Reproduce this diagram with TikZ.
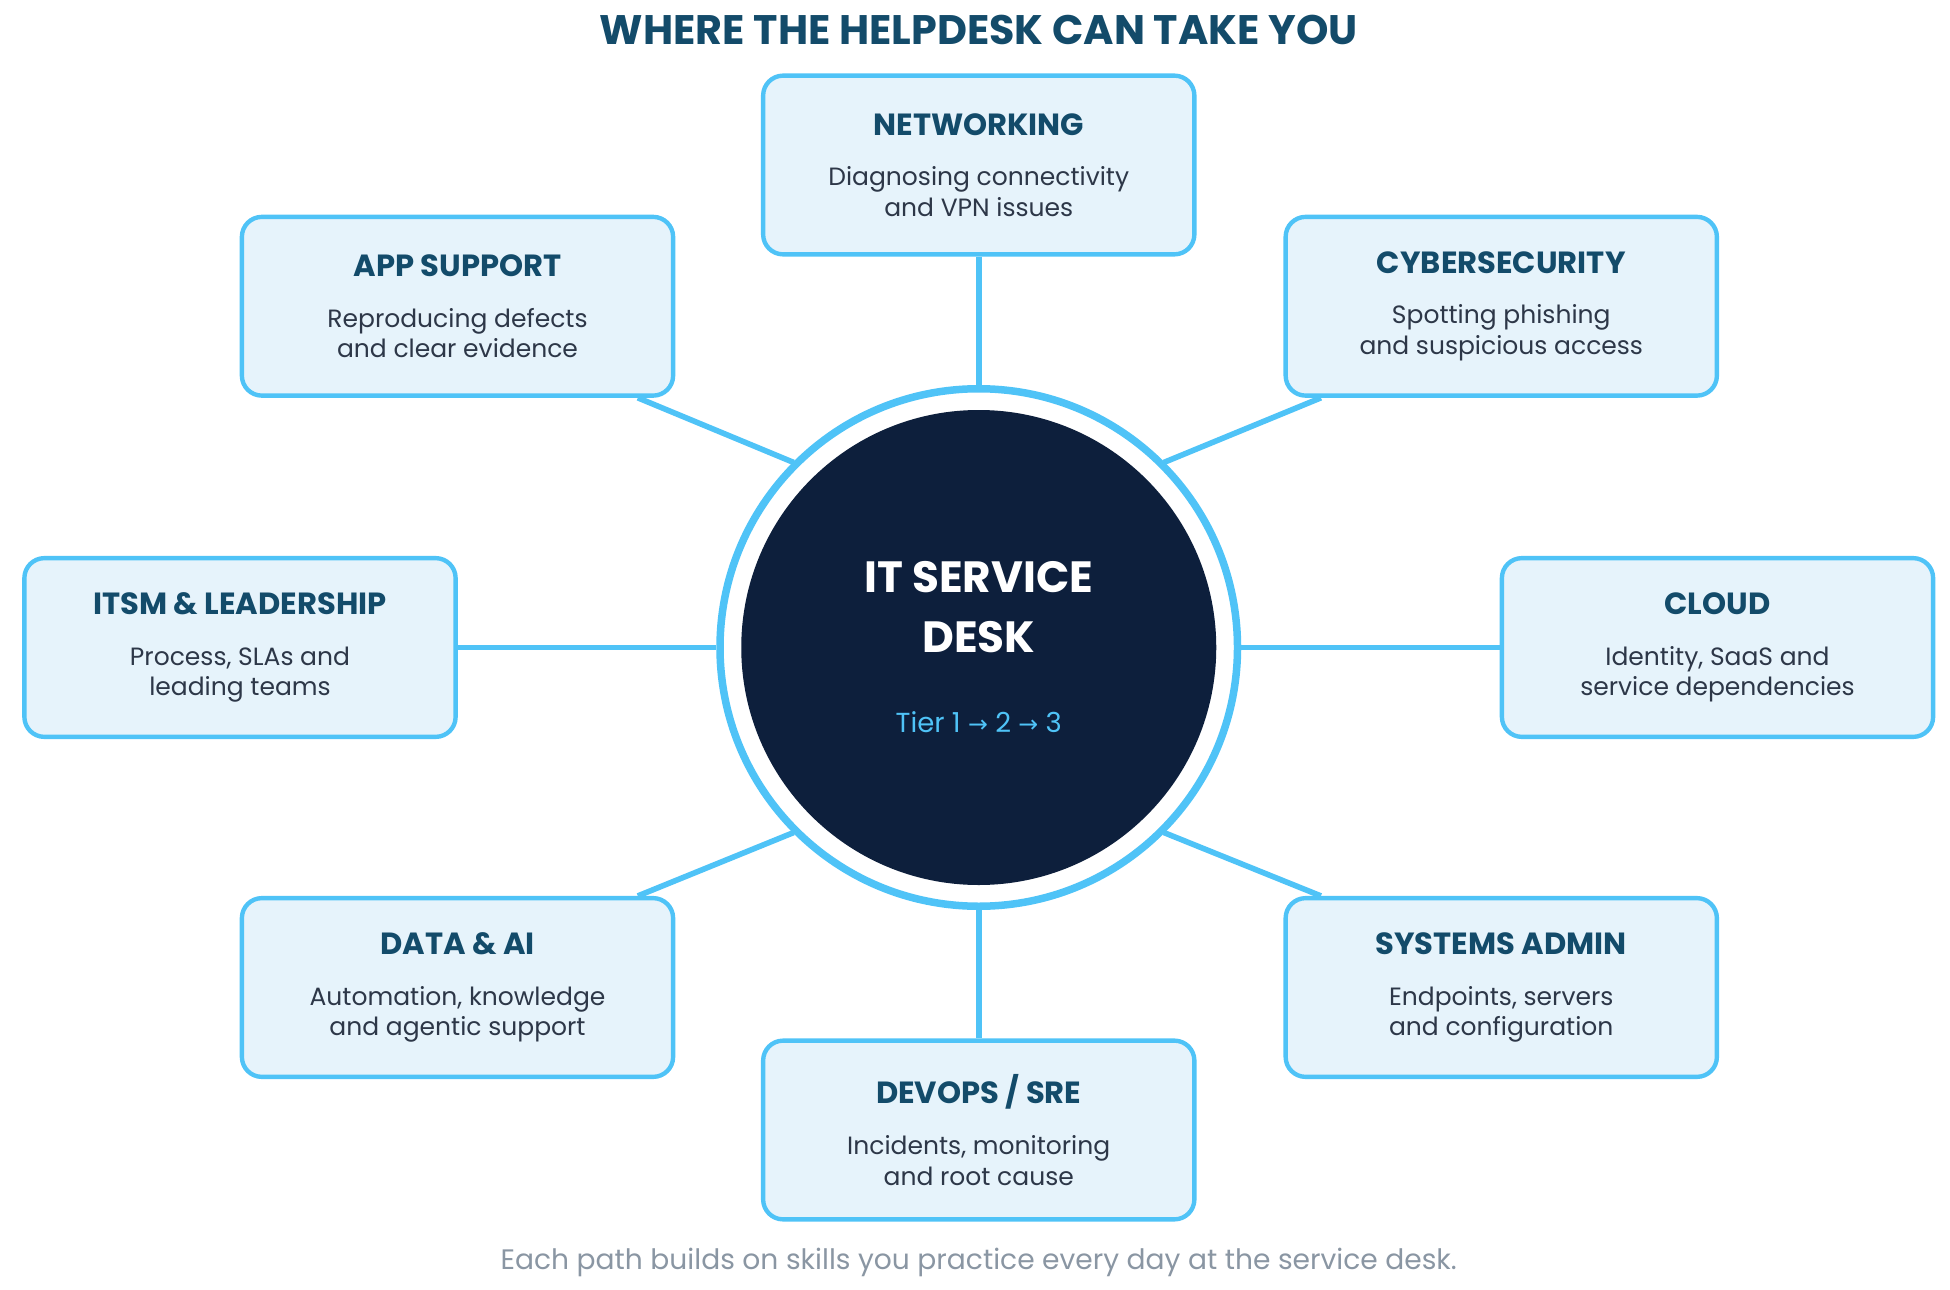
\documentclass[tikz,border=0pt]{standalone}
\usepackage{fontspec}
\setmainfont{Poppins}
\newfontfamily\arrowfont{DejaVu Sans}
\usetikzlibrary{calc}
\definecolor{skyline}{HTML}{4FC3F7}
\definecolor{boxfill}{HTML}{E6F3FB}
\definecolor{headteal}{HTML}{134B6A}
\definecolor{deepnavy}{HTML}{0D1F3C}
\definecolor{bodygray}{HTML}{2D3748}
\definecolor{footgray}{HTML}{8A96A3}
\tikzset{
  path/.style={draw=skyline, fill=boxfill, line width=3.5pt, rounded corners=16pt,
    minimum width=345pt, minimum height=143pt},
  link/.style={draw=skyline, line width=4.5pt},
}
\newcommand{\pathtext}[2]{\parbox{335pt}{\centering\fontsize{24.5}{29}\selectfont\bfseries\color{headteal}#1\\[16pt]
  \fontsize{20}{24.5}\selectfont\mdseries\color{bodygray}#2}}
\newcommand{\tierarrow}{{\arrowfont\fontsize{19}{24}\selectfont →}}
\begin{document}
\begin{tikzpicture}[x=1pt, y=-1pt]
  \useasboundingbox (0,0) rectangle (1560,1032);

  \node (ttl) at (783,24) {\fontsize{33}{38}\selectfont\bfseries\color{headteal}WHERE THE HELPDESK CAN TAKE YOU};

  % centre
  \node[circle, draw=skyline, fill=white, line width=6pt, minimum size=414pt] (ring) at (783,518) {};
  \node[circle, fill=deepnavy, minimum size=380pt, align=center] (hub) at (783,518) {};
  \node[align=center, text=white, font=\fontsize{35}{48}\selectfont\bfseries] at (783,486) {IT SERVICE\\DESK};
  \node[text=skyline, font=\fontsize{22}{26}\selectfont\mdseries] (tier) at (783,578) {Tier 1 \tierarrow{} 2 \tierarrow{} 3};

  % paths
  \node[path] (net) at (783,132) {\pathtext{NETWORKING}{Diagnosing connectivity\\and VPN issues}};
  \node[path] (app) at (366,245) {\pathtext{APP SUPPORT}{Reproducing defects\\and clear evidence}};
  \node[path] (sec) at (1201,245) {\pathtext{CYBERSECURITY}{Spotting phishing\\and suspicious access}};
  \node[path] (itsm) at (192,518) {\pathtext{ITSM \& LEADERSHIP}{Process, SLAs and\\leading teams}};
  \node[path] (cloud) at (1374,518) {\pathtext{CLOUD}{Identity, SaaS and\\service dependencies}};
  \node[path] (data) at (366,790) {\pathtext{DATA \& AI}{Automation, knowledge\\and agentic support}};
  \node[path] (sys) at (1201,790) {\pathtext{SYSTEMS ADMIN}{Endpoints, servers\\and configuration}};
  \node[path] (ops) at (783,904) {\pathtext{DEVOPS / SRE}{Incidents, monitoring\\and root cause}};

  % connectors
  \draw[link] (net) -- (ring);
  \draw[link] (ops) -- (ring);
  \draw[link] (itsm) -- (ring);
  \draw[link] (cloud) -- (ring);
  \draw[link] ($(app.south east)+(-30,0)$) -- ($(ring.center)+(-148,-148)$);
  \draw[link] ($(sec.south west)+(30,0)$) -- ($(ring.center)+(148,-148)$);
  \draw[link] ($(data.north east)+(-30,0)$) -- ($(ring.center)+(-148,148)$);
  \draw[link] ($(sys.north west)+(30,0)$) -- ($(ring.center)+(148,148)$);

  \node[text=footgray, font=\fontsize{22.5}{27}\selectfont] (foot) at (783,1010) {Each path builds on skills you practice every day at the service desk.};
\end{tikzpicture}
\end{document}
